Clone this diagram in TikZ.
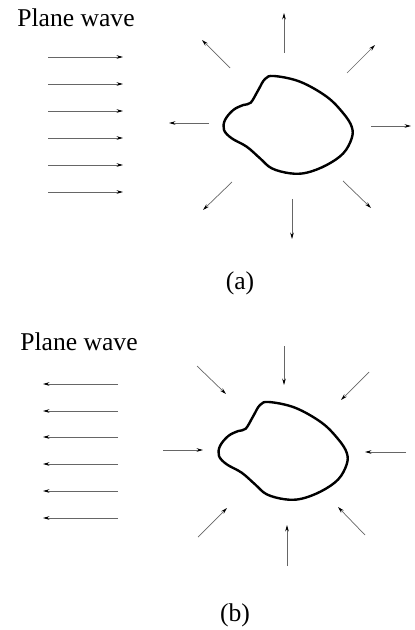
\documentclass[tikz,border=0pt]{standalone}
\usepackage{fontspec}
\setmainfont{Liberation Serif}
\usetikzlibrary{arrows.meta}
\tikzset{
  ray/.style={-{Stealth[length=3.2pt,width=1.8pt,color=black]},line width=0.35pt,black!60},
  caption/.style={font=\fontsize{12.8}{15}\selectfont}
}
\newcommand{\scatterer}{plot[smooth cycle,tension=0.6] coordinates {
  (274,76) (300,81.7) (326.7,96.7) (343.3,113.3) (351.7,126.7) (351.7,138.3)
  (343.3,153.3) (326.7,165) (306.7,172.7) (290,173.3) (271.7,168.3) (260,158.3)
  (246.7,146.7) (231.7,138.3) (224,130) (225,120) (233.3,110) (243.3,105)
  (250.7,102.7) (258.3,90) (265,79)}}
\begin{document}
\begin{tikzpicture}[x=0.5pt,y=-0.5pt]
\useasboundingbox (0,0) rectangle (414,630);
% (a) scattered field
\node[caption] (wavea) at (76,18) {Plane wave};
\draw [ray] (48,57) -- (123,57);
\draw [ray] (48,84) -- (123,84);
\draw [ray] (48,111) -- (123,111);
\draw [ray] (48,138) -- (123,138);
\draw [ray] (48,165) -- (123,165);
\draw [ray] (48,192) -- (123,192);
\draw [line width=1.2pt] \scatterer;
\draw [ray] (284,53) -- (284,13);
\draw [ray] (230,68) -- (202,40);
\draw [ray] (347,73) -- (375,45);
\draw [ray] (209,123) -- (169,123);
\draw [ray] (371,126) -- (411,126);
\draw [ray] (232,182) -- (203,210);
\draw [ray] (292,199) -- (292,239);
\draw [ray] (343,181) -- (371,208);
\node[caption] (capa) at (240,283) {(a)};
% (b) time-reversed field
\node[caption] (waveb) at (79,342) {Plane wave};
\draw [ray] (118,384) -- (43,384);
\draw [ray] (118,411) -- (43,411);
\draw [ray] (118,437) -- (43,437);
\draw [ray] (118,464) -- (43,464);
\draw [ray] (118,491) -- (43,491);
\draw [ray] (118,518) -- (43,518);
\begin{scope}[shift={(-5,326)}]
\draw [line width=1.2pt] \scatterer;
\end{scope}
\draw [ray] (284,346) -- (284,385);
\draw [ray] (197,366) -- (226,394);
\draw [ray] (369,372) -- (341,400);
\draw [ray] (163,450) -- (203,450);
\draw [ray] (406,452) -- (365,452);
\draw [ray] (198,537) -- (227,508);
\draw [ray] (287,566) -- (287,525);
\draw [ray] (365,535) -- (338,507);
\node[caption] (capb) at (235,615) {(b)};
\end{tikzpicture}
\end{document}
